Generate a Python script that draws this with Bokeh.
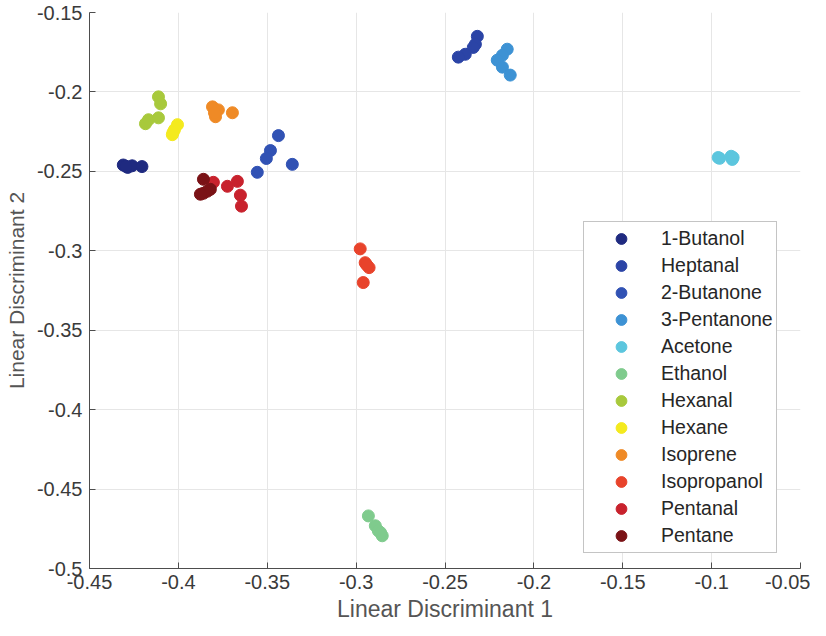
from bokeh.embed import file_html
from bokeh.models import CustomJSTickFormatter, FixedTicker, Legend, Range1d
from bokeh.plotting import figure
from bokeh.resources import INLINE

compounds = ["1-Butanol", "Heptanal", "2-Butanone", "3-Pentanone", "Acetone",
             "Ethanol", "Hexanal", "Hexane", "Isoprene", "Isopropanol",
             "Pentanal", "Pentane"]
colors = ["#1f2a80", "#2b44a6", "#3152b4", "#3d92d4", "#5cc6de", "#7fcb8d",
          "#a8c93c", "#f4ea1e", "#ef8a26", "#e8432b", "#c8222d", "#7a1216"]

# one entry per sample: compound name, LD1, LD2
sample = (["1-Butanol"] * 5 + ["Heptanal"] * 5 + ["2-Butanone"] * 5
          + ["3-Pentanone"] * 5 + ["Acetone"] * 5 + ["Ethanol"] * 5
          + ["Hexanal"] * 5 + ["Hexane"] * 4 + ["Isoprene"] * 5
          + ["Isopropanol"] * 5 + ["Pentanal"] * 5 + ["Pentane"] * 5)
ld1 = [-0.431, -0.4285, -0.426, -0.4205, -0.4295,
       -0.2318, -0.2329, -0.2341, -0.2386, -0.2425,
       -0.3437, -0.3482, -0.3505, -0.3359, -0.3556,
       -0.215, -0.2177, -0.2206, -0.2177, -0.2133,
       -0.0963, -0.0884, -0.0879, -0.0955, -0.089,
       -0.2931, -0.2892, -0.2853, -0.2875, -0.2862,
       -0.4112, -0.41, -0.4168, -0.4112, -0.4185,
       -0.4005, -0.4034, -0.4022, -0.403,
       -0.3808, -0.3775, -0.3791, -0.3696, -0.3797,
       -0.2977, -0.2949, -0.2927, -0.296, -0.294,
       -0.3803, -0.3724, -0.3668, -0.3651, -0.3645,
       -0.3859, -0.382, -0.3859, -0.3837, -0.3876]
ld2 = [-0.246, -0.2475, -0.2465, -0.247, -0.2468,
       -0.165, -0.17, -0.172, -0.1763, -0.1781,
       -0.2275, -0.2369, -0.2419, -0.2456, -0.2506,
       -0.1731, -0.1769, -0.18, -0.1844, -0.1894,
       -0.2413, -0.2425, -0.2413, -0.2418, -0.2405,
       -0.4669, -0.4731, -0.4794, -0.4763, -0.4775,
       -0.2031, -0.2075, -0.2175, -0.2163, -0.22,
       -0.2206, -0.2269, -0.2238, -0.2255,
       -0.2094, -0.2113, -0.2156, -0.2131, -0.2131,
       -0.2988, -0.3075, -0.3106, -0.32, -0.309,
       -0.2569, -0.2594, -0.2563, -0.265, -0.2719,
       -0.255, -0.2613, -0.2638, -0.2625, -0.2644]

x_ticks = [-0.45, -0.4, -0.35, -0.3, -0.25, -0.2, -0.15, -0.1, -0.05]
y_ticks = [-0.5, -0.45, -0.4, -0.35, -0.3, -0.25, -0.2, -0.15]

p = figure(
    x_range=Range1d(-0.45, -0.05),
    y_range=Range1d(-0.5, -0.15),
    x_axis_label="Linear Discriminant 1",
    y_axis_label="Linear Discriminant 2",
    frame_width=711,
    frame_height=556,
    min_border_left=89,
    min_border_right=10,
    min_border_top=12,
    min_border_bottom=52,
    output_backend="svg",
    toolbar_location=None,
)
p.outline_line_color = None

fmt = CustomJSTickFormatter(code="return parseFloat(tick.toFixed(2)).toString();")
p.xaxis.ticker = FixedTicker(ticks=x_ticks)
p.yaxis.ticker = FixedTicker(ticks=y_ticks)
p.axis.formatter = fmt
p.axis.major_tick_in = 6
p.axis.major_tick_out = 0
p.axis.minor_tick_line_color = None
p.axis.axis_line_color = "#4d4d4d"
p.axis.major_tick_line_color = "#4d4d4d"
p.axis.major_label_text_font = "Liberation Sans"
p.axis.major_label_text_font_size = "20px"
p.axis.major_label_text_color = "#3a3a3a"
p.axis.axis_label_text_font = "Liberation Sans"
p.axis.axis_label_text_font_style = "normal"
p.axis.axis_label_text_color = "#555555"
p.xaxis.axis_label_text_font_size = "23px"
p.yaxis.axis_label_text_font_size = "21px"
p.xaxis.major_label_standoff = 6
p.yaxis.major_label_standoff = 7
p.xaxis.axis_label_standoff = 4
p.yaxis.axis_label_standoff = 6
p.grid.grid_line_color = "#e6e6e6"

items = []
for name, color in zip(compounds, colors):
    xs = [x for x, s in zip(ld1, sample) if s == name]
    ys = [y for y, s in zip(ld2, sample) if s == name]
    r = p.scatter(xs, ys, size=12, fill_color=color, line_color=color)
    items.append((name, [r]))

legend = Legend(items=items, location=(494, 15))
legend.padding = 3
legend.margin = 0
legend.spacing = 0
legend.glyph_width = 68
legend.glyph_height = 27
legend.label_height = 27
legend.label_width = 110
legend.label_standoff = 6
legend.label_text_font = "Liberation Sans"
legend.label_text_font_size = "19.5px"
legend.label_text_color = "#262626"
legend.border_line_color = "#8a8a8a"
legend.border_line_width = 1
legend.background_fill_alpha = 1
p.add_layout(legend, "center")

open("out.html", "w").write(file_html(p, INLINE))
